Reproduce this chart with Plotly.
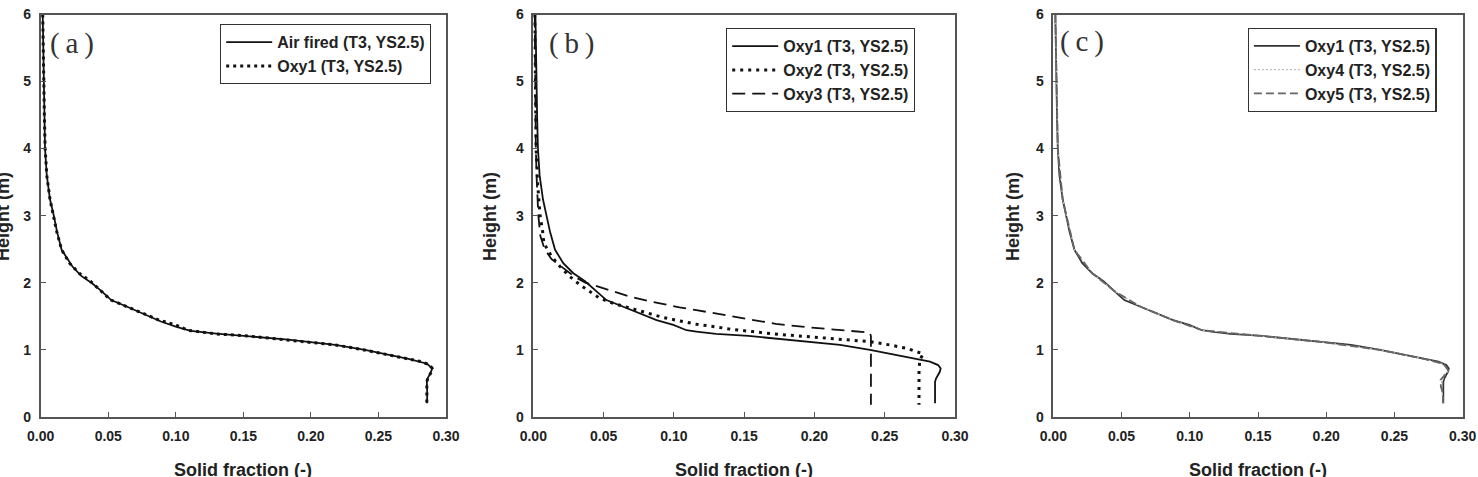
import plotly.graph_objects as go

# ---------------- data (height in m, solid fraction) ----------------
oxy1_h = [6.0, 5.5, 5.0, 4.5, 4.0, 3.6, 3.24, 3.0, 2.75, 2.49, 2.29, 2.14, 2.02, 1.87, 1.74,
          1.64, 1.54, 1.44, 1.37, 1.29, 1.27, 1.235, 1.205, 1.17, 1.12, 1.07, 0.996, 0.936,
          0.87, 0.82, 0.77, 0.72, 0.67, 0.62, 0.57, 0.52, 0.47, 0.40, 0.30, 0.20]
oxy1_sf = [0.0015, 0.0018, 0.0022, 0.0027, 0.0033, 0.0045, 0.0069, 0.0095, 0.012, 0.0155,
           0.0213, 0.0285, 0.0368, 0.045, 0.052, 0.064, 0.0759, 0.0877, 0.0996, 0.109, 0.116,
           0.130, 0.153, 0.1708, 0.1945, 0.2182, 0.2395, 0.2537, 0.270, 0.2822, 0.288, 0.2898,
           0.2892, 0.2877, 0.2865, 0.2858, 0.2858, 0.2860, 0.2860, 0.2858]

# Air fired (panel a) - practically identical to Oxy1
air_h = [6.0, 5.5, 5.0, 4.5, 4.0, 3.6, 3.24, 3.0, 2.75, 2.49, 2.24, 2.10, 1.99, 1.87, 1.74,
         1.64, 1.54, 1.42, 1.34, 1.28, 1.24, 1.20, 1.15, 1.07, 0.996, 0.93, 0.86, 0.79,
         0.72, 0.65, 0.58, 0.52, 0.45, 0.35, 0.20]
air_sf = [0.0015, 0.0018, 0.0022, 0.0027, 0.0032, 0.0045, 0.0069, 0.0097, 0.0122, 0.0155,
          0.0235, 0.0300, 0.0380, 0.0452, 0.0522, 0.0640, 0.0760, 0.0890, 0.1005, 0.1110,
          0.1300, 0.1560, 0.1830, 0.2180, 0.2400, 0.2560, 0.2730, 0.2860, 0.2898, 0.2885,
          0.2866, 0.2858, 0.2860, 0.2861, 0.2860]

# Oxy2 (panel b, dotted)
oxy2_h = [6.0, 5.0, 4.0, 3.5, 3.0, 2.79, 2.59, 2.39, 2.24, 2.09, 1.97, 1.87, 1.77, 1.69, 1.62,
          1.55, 1.48, 1.43, 1.38, 1.34, 1.30, 1.27, 1.235, 1.195, 1.155, 1.12, 1.07, 1.02,
          0.936, 0.85, 0.70, 0.50, 0.30, 0.18]
oxy2_sf = [0.0010, 0.0013, 0.0020, 0.0030, 0.0048, 0.0065, 0.0075, 0.013, 0.019, 0.026, 0.033,
           0.040, 0.047, 0.057, 0.069, 0.081, 0.0925, 0.104, 0.116, 0.130, 0.142, 0.156,
           0.1708, 0.1945, 0.2182, 0.2395, 0.2537, 0.2656, 0.2774, 0.2750, 0.2744, 0.2744,
           0.2744, 0.2744]

# Oxy3 (panel b, dashed)
oxy3_h = [6.0, 5.0, 4.0, 3.5, 3.0, 2.7, 2.5, 2.35, 2.2, 2.08, 2.0, 1.95, 1.87, 1.79, 1.73,
          1.68, 1.63, 1.59, 1.55, 1.50, 1.45, 1.385, 1.335, 1.295, 1.255, 1.20, 0.80, 0.40, 0.18]
oxy3_sf = [0.0010, 0.0012, 0.0018, 0.0025, 0.0036, 0.0050, 0.0080, 0.013, 0.022, 0.030, 0.037,
           0.045, 0.057, 0.069, 0.081, 0.0925, 0.104, 0.116, 0.127, 0.140, 0.153, 0.1725,
           0.1945, 0.2182, 0.2395, 0.2402, 0.2402, 0.2402, 0.2402]

# Oxy4 (panel c, dotted light) and Oxy5 (panel c, dashed) overlap Oxy1
oxy4_h = [6.0, 5.0, 4.0, 3.24, 3.0, 2.49, 2.14, 1.87, 1.64, 1.44, 1.29, 1.205, 1.12, 0.996,
          0.87, 0.79, 0.69, 0.62, 0.52, 0.42, 0.20]
oxy4_sf = [0.0015, 0.0022, 0.0033, 0.0069, 0.0095, 0.0155, 0.0285, 0.045, 0.064, 0.0877, 0.109,
           0.153, 0.1945, 0.2395, 0.270, 0.2858, 0.2895, 0.2870, 0.2846, 0.2846, 0.2858]
oxy5_h = [6.0, 5.0, 4.0, 3.24, 3.0, 2.49, 2.14, 1.87, 1.64, 1.44, 1.29, 1.205, 1.12, 0.996,
          0.87, 0.79, 0.69, 0.62, 0.55, 0.45, 0.35, 0.20]
oxy5_sf = [0.0015, 0.0022, 0.0033, 0.0069, 0.0095, 0.0155, 0.0285, 0.045, 0.064, 0.0877, 0.109,
           0.153, 0.1945, 0.2395, 0.270, 0.2858, 0.2895, 0.2868, 0.2838, 0.2840, 0.2855, 0.2855]

x_ticks = [0.0, 0.05, 0.10, 0.15, 0.20, 0.25, 0.30]
y_ticks = [0, 1, 2, 3, 4, 5, 6]
panel_labels = ["(\u2009a\u2009)", "(\u2009b\u2009)", "(\u2009c\u2009)"]
x_title = "Solid fraction (-)"
y_title = "Height (m)"

# ---------------- figure ----------------
W, H = 1478, 477
SANS = "Liberation Sans, Arial, sans-serif"
fig = go.Figure()

def tr(x, y, name, xa, ya, leg, color, width, dash):
    fig.add_trace(go.Scatter(x=x, y=y, mode="lines", name=name, xaxis=xa, yaxis=ya,
                             legend=leg, line=dict(color=color, width=width, dash=dash)))

# panel a
tr(air_sf, air_h, "Air fired (T3, YS2.5)", "x", "y", "legend", "#111", 1.8, "solid")
tr(oxy1_sf, oxy1_h, "Oxy1 (T3, YS2.5)", "x", "y", "legend", "#111", 3, "3px,4px")
# panel b
tr(oxy1_sf, oxy1_h, "Oxy1 (T3, YS2.5)", "x2", "y2", "legend2", "#111", 1.8, "solid")
tr(oxy2_sf, oxy2_h, "Oxy2 (T3, YS2.5)", "x2", "y2", "legend2", "#111", 3, "3px,5px")
tr(oxy3_sf, oxy3_h, "Oxy3 (T3, YS2.5)", "x2", "y2", "legend2", "#111", 1.8, "13px,7px")
# panel c
tr(oxy1_sf, oxy1_h, "Oxy1 (T3, YS2.5)", "x3", "y3", "legend3", "#333", 1.8, "solid")
tr(oxy4_sf, oxy4_h, "Oxy4 (T3, YS2.5)", "x3", "y3", "legend3", "#bbbbbb", 1.2, "2px,2px")
tr(oxy5_sf, oxy5_h, "Oxy5 (T3, YS2.5)", "x3", "y3", "legend3", "#666", 1.8, "8px,4px")

# axes geometry (pixel positions)
xdoms = [(40.7, 446.0), (533.3, 955.0), (1053.3, 1462.7)]
ytop, ybot = 14.5, 416.7
ydom = [(H - ybot) / H, (H - ytop) / H]

axis_common = dict(showline=True, linecolor="#555", linewidth=1.6, mirror=True,
                   ticks="inside", ticklen=5, tickwidth=1.2, tickcolor="#555",
                   showgrid=False, zeroline=False, automargin=False,
                   tickfont=dict(family=SANS, size=14, color="#222", weight="bold"))
layout_axes = {}
for i, (l, r) in enumerate(xdoms):
    sfx = "" if i == 0 else str(i + 1)
    layout_axes["xaxis" + sfx] = dict(axis_common, domain=[l / W, r / W], range=[0, 0.30],
                                      tickvals=x_ticks, tickformat=".2f",
                                      anchor="y" + sfx, ticklabelstandoff=6)
    layout_axes["yaxis" + sfx] = dict(axis_common, domain=ydom, range=[0, 6],
                                      tickvals=y_ticks, anchor="x" + sfx,
                                      ticklabelstandoff=5)

legend_common = dict(bgcolor="white", bordercolor="#333", borderwidth=1.2,
                     font=dict(family=SANS, size=16, color="#222", weight="bold"),
                     xanchor="left", yanchor="top", itemwidth=46, tracegroupgap=0)
legs = [(220, 24), (726, 28), (1247.7, 27.7)]

fig.update_layout(
    width=W, height=H, margin=dict(l=0, r=0, t=0, b=0),
    paper_bgcolor="white", plot_bgcolor="white", showlegend=True,
    legend=dict(legend_common, x=legs[0][0] / W, y=(H - legs[0][1]) / H),
    legend2=dict(legend_common, x=legs[1][0] / W, y=(H - legs[1][1]) / H),
    legend3=dict(legend_common, x=legs[2][0] / W, y=(H - legs[2][1]) / H),
    **layout_axes,
)

annos = []
lab_pos = [(71.7, 43.3), (571.7, 43.3), (1081.7, 41.7)]
ytitle_x = [3, 490, 1013]
for i, (l, r) in enumerate(xdoms):
    annos.append(dict(text=panel_labels[i], x=lab_pos[i][0] / W, y=(H - lab_pos[i][1]) / H,
                      xref="paper", yref="paper", showarrow=False, xanchor="center",
                      yanchor="middle",
                      font=dict(family="Liberation Serif, DejaVu Serif, serif", size=29,
                                color="#333")))
    annos.append(dict(text=x_title, x=(l + r) / 2 / W, y=(H - 470) / H, xref="paper",
                      yref="paper", showarrow=False, xanchor="center", yanchor="middle",
                      font=dict(family=SANS, size=18, color="#222", weight="bold")))
    annos.append(dict(text=y_title, x=ytitle_x[i] / W, y=(H - 217) / H, xref="paper",
                      yref="paper", showarrow=False, xanchor="center", yanchor="middle",
                      textangle=-90,
                      font=dict(family=SANS, size=18, color="#222", weight="bold")))
fig.update_layout(annotations=annos)

fig.write_html("out.html")
